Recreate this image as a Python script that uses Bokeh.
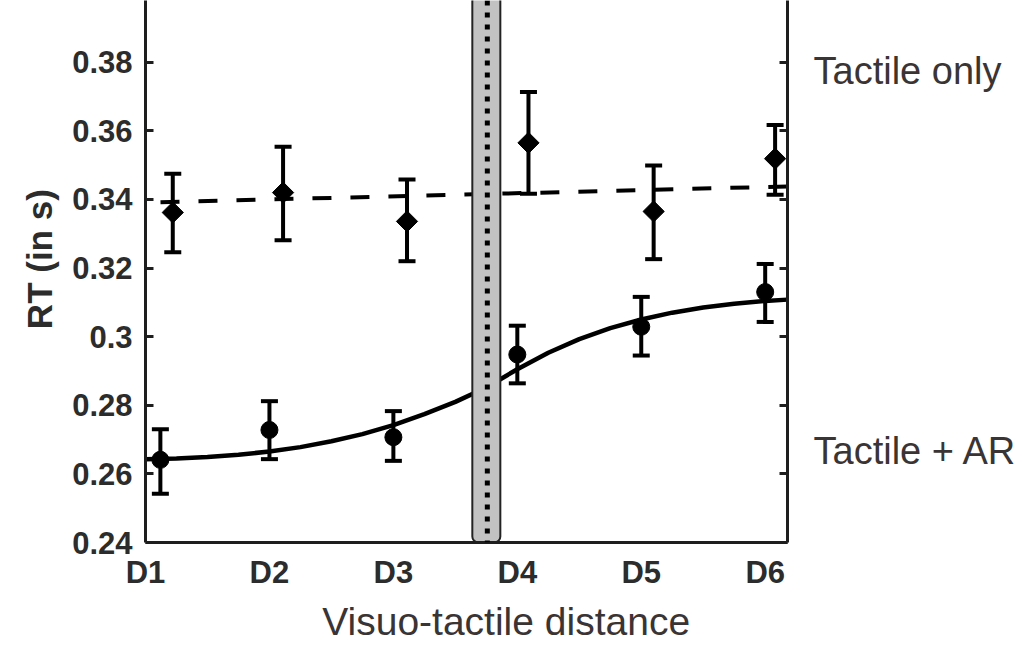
from math import pi
from bokeh.plotting import figure
from bokeh.models import (Whisker, TeeHead, ColumnDataSource, FixedTicker,
                          LinearAxis, Span, Range1d)
from bokeh.embed import file_html
from bokeh.resources import INLINE

# ---------------- data ----------------
distance_labels = ["D1", "D2", "D3", "D4", "D5", "D6"]
distance_pos = [1, 2, 3, 4, 5, 6]

rt_ticks = [0.24, 0.26, 0.28, 0.30, 0.32, 0.34, 0.36, 0.38]
rt_tick_labels = ["0.24", "0.26", "0.28", "0.3", "0.32", "0.34", "0.36", "0.38"]

# Tactile + AR (circles)
ar_x = [1.12, 2.0, 3.0, 4.0, 5.0, 6.0]
ar_rt = [0.2641, 0.2728, 0.2707, 0.2948, 0.3029, 0.3130]
ar_lo = [0.2542, 0.2643, 0.2638, 0.2864, 0.2945, 0.3043]
ar_hi = [0.2730, 0.2812, 0.2783, 0.3032, 0.3116, 0.3212]

# Tactile only (diamonds)
to_x = [1.22, 2.11, 3.11, 4.09, 5.10, 6.08]
to_rt = [0.3362, 0.3420, 0.3336, 0.3565, 0.3365, 0.3519]
to_lo = [0.3246, 0.3281, 0.3220, 0.3417, 0.3226, 0.3414]
to_hi = [0.3475, 0.3554, 0.3458, 0.3713, 0.3499, 0.3617]

# fitted curve for Tactile + AR
fit_ar_x = [1.0, 1.25, 1.5, 1.75, 2.0, 2.25, 2.5, 2.75, 3.0, 3.25, 3.5, 3.75,
            4.0, 4.25, 4.5, 4.75, 5.0, 5.25, 5.5, 5.75, 6.0, 6.18]
fit_ar_y = [0.2643, 0.2645, 0.2649, 0.2656, 0.2665, 0.2678, 0.2695, 0.2716,
            0.2742, 0.2774, 0.2810, 0.2852, 0.2905, 0.2953, 0.2993, 0.3025,
            0.3050, 0.3070, 0.3085, 0.3096, 0.3104, 0.3108]

# linear fit for Tactile only
fit_to_x = [1.0, 6.18]
fit_to_y = [0.3391, 0.3438]

# point of subjective equality band
pse = 3.758
pse_lo = 3.637
pse_hi = 3.863

# condition names shown at the right, and axis titles
series_names = ["Tactile only", "Tactile + AR"]
series_name_rt = [0.3774, 0.2667]
x_title = "Visuo-tactile distance"
x_title_pos = 3.91
y_title = "RT (in s)"
y_title_pos = 0.3226

# ---------------- figure ----------------
p = figure(width=1033, height=645,
           x_range=Range1d(1.0, 6.18), y_range=Range1d(0.24, 0.398),
           output_backend="svg", toolbar_location=None,
           min_border_left=145, min_border_right=246,
           min_border_top=0, min_border_bottom=100)
p.outline_line_color = None
p.xgrid.visible = False
p.ygrid.visible = False
p.background_fill_color = "white"

AXIS_COL = "#1e1e1e"
LAB_COL = "#2c2c2c"
TXT_COL = "#3a3434"
FONT = "Liberation Sans"


def bare_axis(axis, standoff, size, style, color):
    axis.axis_line_color = None
    axis.major_tick_line_color = None
    axis.minor_tick_line_color = None
    axis.major_tick_in = 0
    axis.major_tick_out = 0
    axis.major_label_standoff = standoff
    axis.major_label_text_font = FONT
    axis.major_label_text_font_size = size
    axis.major_label_text_font_style = style
    axis.major_label_text_color = color


# y axis (left)
ya = p.yaxis[0]
ya.ticker = FixedTicker(ticks=rt_ticks, minor_ticks=[])
ya.major_label_overrides = dict(zip(rt_ticks, rt_tick_labels))
ya.axis_line_width = 3
ya.axis_line_color = AXIS_COL
ya.major_tick_in = 8
ya.major_tick_out = 0
ya.major_tick_line_width = 3
ya.major_tick_line_color = AXIS_COL
ya.minor_tick_line_color = None
ya.major_label_standoff = 13
ya.major_label_text_font = FONT
ya.major_label_text_font_style = "bold"
ya.major_label_text_font_size = "31px"
ya.major_label_text_color = LAB_COL

# y title as an outer left axis
yt = LinearAxis(ticker=FixedTicker(ticks=[y_title_pos], minor_ticks=[]),
                major_label_overrides={y_title_pos: y_title},
                major_label_orientation="parallel")
bare_axis(yt, 10, "35px", "bold", LAB_COL)
p.add_layout(yt, "left")

# right axis (ticks only)
ra = LinearAxis(ticker=FixedTicker(ticks=rt_ticks, minor_ticks=[]))
ra.axis_line_width = 3
ra.axis_line_color = AXIS_COL
ra.major_tick_in = 8
ra.major_tick_out = 0
ra.major_tick_line_width = 3
ra.major_tick_line_color = AXIS_COL
ra.minor_tick_line_color = None
ra.major_label_standoff = 0
ra.major_label_text_font_size = "0px"
ra.major_label_text_alpha = 0
p.add_layout(ra, "right")

# series names as an outer right axis
sn = LinearAxis(ticker=FixedTicker(ticks=series_name_rt, minor_ticks=[]),
                major_label_overrides=dict(zip(series_name_rt, series_names)))
bare_axis(sn, 26, "38px", "normal", TXT_COL)
p.add_layout(sn, "right")

# x axis
xa = p.xaxis[0]
xa.ticker = FixedTicker(ticks=distance_pos, minor_ticks=[])
xa.major_label_overrides = dict(zip(distance_pos, distance_labels))
xa.axis_line_width = 3
xa.axis_line_color = AXIS_COL
xa.major_tick_in = 0
xa.major_tick_out = 0
xa.minor_tick_line_color = None
xa.major_label_standoff = 12
xa.major_label_text_font = FONT
xa.major_label_text_font_style = "bold"
xa.major_label_text_font_size = "31px"
xa.major_label_text_color = LAB_COL

# x title as an outer bottom axis
xt = LinearAxis(ticker=FixedTicker(ticks=[x_title_pos], minor_ticks=[]),
                major_label_overrides={x_title_pos: x_title})
bare_axis(xt, 7, "39px", "normal", TXT_COL)
p.add_layout(xt, "below")

# fitted lines
p.line(fit_to_x, fit_to_y, line_color="black", line_width=4,
       line_dash="19 19", line_dash_offset=23)
p.line(fit_ar_x, fit_ar_y, line_color="black", line_width=4.5)

# PSE band
p.quad(left=[pse_lo], right=[pse_hi], bottom=[0.24], top=[0.45],
       fill_color="#c2c2c2", line_color="#222222", line_width=2,
       border_radius=dict(top_left=0, top_right=0, bottom_right=6, bottom_left=6))
p.add_layout(Span(location=pse, dimension="height", line_color="black",
                  line_width=5, line_dash="5 7"))

# error bars
src_ar = ColumnDataSource(dict(x=ar_x, y=ar_rt, lo=ar_lo, hi=ar_hi))
src_to = ColumnDataSource(dict(x=to_x, y=to_rt, lo=to_lo, hi=to_hi))
for src in (src_ar, src_to):
    w = Whisker(source=src, base="x", upper="hi", lower="lo",
                line_color="black", line_width=4,
                upper_head=TeeHead(size=17, line_width=4, line_color="black"),
                lower_head=TeeHead(size=17, line_width=4, line_color="black"))
    p.add_layout(w)

# markers
p.scatter(x="x", y="y", source=src_ar, marker="circle", size=17,
          fill_color="black", line_color="black")
p.scatter(x="x", y="y", source=src_to, marker="square", angle=pi / 4,
          size=15, fill_color="black", line_color="black")

open("out.html", "w").write(file_html(p, INLINE))
